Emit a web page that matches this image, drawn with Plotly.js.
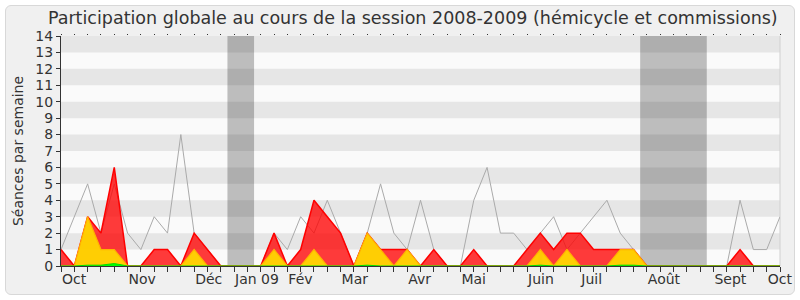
<!DOCTYPE html>
<html>
<head>
<meta charset="utf-8">
<script src="https://cdn.plot.ly/plotly-3.0.1.min.js"></script>
<style>
  html, body { margin: 0; padding: 0; background: #ffffff; }
  #frame { position: absolute; left: 5px; top: 5px; width: 788px; height: 288px;
           border: 1px solid #d8d8d8; border-radius: 6px; background: #f0f0f0; }
  #chart { position: absolute; left: 0; top: 0; width: 800px; height: 300px; }
</style>
</head>
<body>
<div id="frame"></div>
<div id="chart"></div>
<script>
// Weekly values, session 2008-2009 (index = week number)
const maxSeances = [1,3,5,2,5,2,1,3,2,8,2,1,0,0,0,0,2,1,3,2,4,2,0,2,5,2,1,4,1,0,0,4,6,2,2,1,2,3,1,2,3,4,2,1,0,0,0,0,0,0,0,4,1,1,3];
const presences  = [1,0,3,2,6,0,0,1,1,0,2,1,0,0,0,0,2,0,1,4,3,2,0,2,1,1,1,0,1,0,0,1,0,0,0,1,2,1,2,2,1,1,1,1,0,0,0,0,0,0,0,1,0,0,0];
const participations = [0,0,3,1,1,0,0,0,0,0,1,0,0,0,0,0,1,0,0,1,0,0,0,2,1,0,1,0,0,0,0,0,0,0,0,0,1,0,1,0,0,0,1,1,0,0,0,0,0,0,0,0,0,0,0];
const interventions = [0,0,0.05,0.05,0.15,0,0,0,0,0,0,0,0,0,0,0,0,0,0,0,0,0,0,0.05,0,0,0,0,0,0,0,0,0,0,0,0,0.05,0,0,0,0,0,0.05,0.05,0,0,0,0,0,0,0,0,0,0,0];
const questionsWeek = [36];
const questionsVal = [0.85];

const monthLabels = ['Oct','Nov','Déc','Jan 09','Fév','Mar','Avr','Mai','Juin','Juil','Août','Sept','Oct'];
const monthWeeks  = [0,5,10,13,17,21,26,30,35,39,44,49,53];

const vacances = [[12.5,14.5],[43.5,48.5]];

const weeks = maxSeances.map((_, i) => i);
const tickText = weeks.map(w => { const k = monthWeeks.indexOf(w); return k >= 0 ? monthLabels[k] : ''; });

const font = 'DejaVu Sans, Verdana, sans-serif';

const traces = [
  {x: weeks, y: maxSeances, type: 'scatter', mode: 'lines',
   line: {color: '#aaaaaa', width: 1}, hoverinfo: 'skip', showlegend: false},
  {x: weeks, y: presences, type: 'scatter', mode: 'lines', fill: 'tozeroy',
   fillcolor: 'rgba(255,0,0,0.77)', line: {color: '#ff0000', width: 1.5}, showlegend: false},
  {x: weeks, y: participations, type: 'scatter', mode: 'lines', fill: 'tozeroy',
   fillcolor: 'rgba(255,214,0,0.95)', line: {color: '#ffb400', width: 1.2}, showlegend: false},
  {x: weeks, y: interventions, type: 'scatter', mode: 'lines', fill: 'tozeroy',
   fillcolor: '#00ff00', line: {color: '#00dd00', width: 1}, showlegend: false},
  {x: questionsWeek, y: questionsVal, type: 'bar', width: 0.3,
   marker: {color: '#2424ee', line: {width: 0}}, showlegend: false},
  {x: [0], y: [0], xaxis: 'x2', type: 'scatter', mode: 'none', hoverinfo: 'skip', showlegend: false}
];

const shapes = [];
vacances.forEach(v => shapes.push({type: 'rect', xref: 'x', yref: 'paper', x0: v[0], x1: v[1], y0: 0, y1: 1,
  fillcolor: '#bdbdbd', line: {width: 0}, layer: 'below'}));
for (let k = 1; k < 14; k += 2) {
  shapes.push({type: 'rect', xref: 'paper', yref: 'y', x0: 0, x1: 1, y0: k, y1: k + 1,
    fillcolor: 'rgba(0,0,0,0.08)', line: {width: 0}, layer: 'below'});
}
shapes.push({type: 'line', xref: 'paper', yref: 'paper', x0: 1, x1: 1, y0: 0, y1: 1,
  line: {color: '#d0d0d0', width: 1}, layer: 'below'});

const layout = {
  width: 800, height: 300,
  margin: {l: 61, r: 20, t: 36, b: 34},
  paper_bgcolor: 'rgba(0,0,0,0)',
  plot_bgcolor: '#fafafa',
  font: {family: font, color: '#333333', size: 14},
  title: {text: 'Participation globale au cours de la session 2008-2009 (hémicycle et commissions)',
          x: 0.516, xanchor: 'center', y: 0.94, yanchor: 'middle', yref: 'container',
          font: {family: font, size: 17.5, color: '#333333'}},
  barmode: 'overlay',
  xaxis: {range: [0, 54], tickmode: 'array', tickvals: weeks, ticktext: tickText,
          ticks: 'outside', ticklen: 5, tickcolor: '#333333', tickwidth: 1,
          ticklabelposition: 'outside right', tickangle: 0,
          showline: true, linecolor: '#333333', linewidth: 1,
          showgrid: false, zeroline: false, fixedrange: true,
          tickfont: {family: font, size: 14, color: '#333333'}},
  xaxis2: {range: [0, 54], overlaying: 'x', side: 'top', anchor: 'y',
           tickmode: 'array', tickvals: weeks, ticks: 'outside', ticklen: 1,
           tickcolor: '#333333', showticklabels: false, showline: false,
           showgrid: false, zeroline: false},
  yaxis: {range: [0, 14], dtick: 1, tick0: 0, ticks: 'outside', ticklen: 4,
          tickcolor: '#333333', showline: true, linecolor: '#333333', linewidth: 1,
          showgrid: false, zeroline: false, fixedrange: true,
          tickfont: {family: font, size: 14, color: '#333333'},
          title: {text: 'Séances par semaine', standoff: 8,
                  font: {family: font, size: 14, color: '#333333'}}},
  shapes: shapes,
  showlegend: false
};

Plotly.newPlot('chart', traces, layout, {displayModeBar: false, staticPlot: true});
</script>
</body>
</html>
